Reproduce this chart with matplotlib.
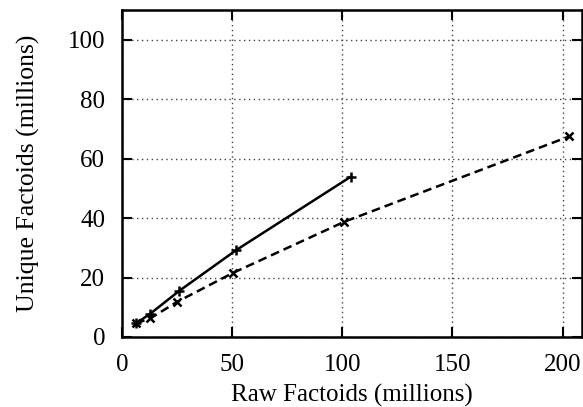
import numpy as np
import matplotlib.pyplot as plt

plt.rcParams['font.family'] = ['Liberation Serif', 'DejaVu Serif']

# Data
raw_a = [6.5, 13, 26, 52, 104]
uniq_a = [4.6, 7.9, 15.5, 29.3, 54.0]
raw_b = [6.5, 13, 25, 50.5, 101, 203]
uniq_b = [4.6, 6.3, 11.8, 21.6, 38.8, 67.5]

xticks = [0, 50, 100, 150, 200]
yticks = [0, 20, 40, 60, 80, 100]

fig = plt.figure(figsize=(5.83, 4.07), dpi=100)
ax = fig.add_axes([0.209, 0.172, 0.79, 0.803])

ax.plot(raw_a, uniq_a, color='black', lw=1.8, marker='+', ms=7, mew=1.8,
        clip_on=False, zorder=3)
ax.plot(raw_b, uniq_b, color='black', lw=1.8, ls=(0, (3.5, 2)), marker='x',
        ms=6, mew=1.8, clip_on=False, zorder=3)

ax.set_xlim(0, 209)
ax.set_ylim(0, 110)
ax.set_xticks(xticks)
ax.set_yticks(yticks)
ax.grid(True, color='#444444', ls=(0, (1, 2.5)), lw=1)
ax.tick_params(direction='in', length=7, width=1.5, labelsize=18,
               top=True, right=True, pad=12)
for s in ax.spines.values():
    s.set_linewidth(1.8)

ax.set_xlabel('Raw Factoids (millions)', fontsize=18, labelpad=6)
ax.set_ylabel('Unique Factoids (millions)', fontsize=18.5, labelpad=20)

fig.savefig('out.png', dpi=100)
